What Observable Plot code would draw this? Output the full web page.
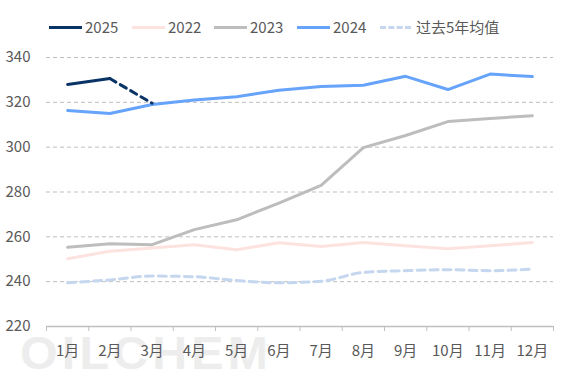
<!DOCTYPE html>
<html><head><meta charset="utf-8">
<script src="https://cdn.jsdelivr.net/npm/d3@7"></script>
<script src="https://cdn.jsdelivr.net/npm/@observablehq/plot@0.6"></script>
<style>
body{margin:0;background:#fff;font-family:"Noto Sans CJK SC","Noto Sans",sans-serif;}
#wrap{position:relative;width:567px;height:378px;overflow:hidden;}
#legend{height:40px;position:relative;font-size:15px;color:#595959;}
.item{position:absolute;top:17px;display:flex;align-items:center;line-height:20px;}
.sw{width:33px;height:0;margin-right:3px;}
#wm{position:absolute;left:20px;top:326px;font-family:"Liberation Sans",Arial,sans-serif;font-weight:bold;font-size:46px;letter-spacing:4px;color:#ededed;transform:scaleX(1.05);transform-origin:left;}
#chart{position:relative;}
</style></head>
<body><div id="wrap"><div id="wm">OILCHEM</div><div id="legend"></div><div id="chart"></div></div>
<script>
const months = [1,2,3,4,5,6,7,8,9,10,11,12];
const monthLabels = ["1月","2月","3月","4月","5月","6月","7月","8月","9月","10月","11月","12月"];
const s2025 = [328, 330.6, 319.6];
const s2022 = [250.2, 253.6, 255, 256.5, 254.2, 257.4, 255.7, 257.5, 256, 254.7, 256, 257.5];
const s2023 = [255.4, 256.9, 256.5, 263.2, 267.6, 275, 283, 299.8, 305.2, 311.4, 312.8, 314];
const s2024 = [316.4, 315, 319, 321, 322.5, 325.4, 327.1, 327.6, 331.6, 325.7, 332.6, 331.5];
const s5yr = [239.5, 240.8, 242.5, 242.2, 240.5, 239.5, 240.2, 244.1, 244.9, 245.3, 244.9, 245.6];
const yTicks = [220, 240, 260, 280, 300, 320, 340];
const seriesNames = ["2025","2022","2023","2024","过去5年均值"];
const colors = {"2025":"#0b3466","2022":"#fde3df","2023":"#bdbdbd","2024":"#66a3fb","过去5年均值":"#c5d7ee"};

const toRows = (arr, name) => arr.map((v,i)=>({m:months[i], v, name}));
const r2025solid = toRows(s2025, "2025").slice(0,2);
const r2025dash = toRows(s2025, "2025").slice(1,3);
const r2022 = toRows(s2022,"2022"), r2023 = toRows(s2023,"2023"), r2024 = toRows(s2024,"2024"), r5 = toRows(s5yr,"过去5年均值");
const bounds = months.map(m=>m-0.5).concat([months[months.length-1]+0.5]);

// legend
const legendPos = [49,132,214,297,380];
const lg = document.getElementById("legend");
seriesNames.forEach((n,i)=>{
  const d = document.createElement("div"); d.className="item"; d.style.left=legendPos[i]+"px";
  const dashed = n==="过去5年均值";
  d.innerHTML = `<span class="sw" style="border-top:3px ${dashed?"dashed":"solid"} ${colors[n]};${dashed?"width:31px;margin-right:5px;":""}"></span><span>${n}</span>`;
  lg.appendChild(d);
});

const plot = Plot.plot({
  width: 567, height: 338,
  marginTop: 17, marginBottom: 52, marginLeft: 46, marginRight: 14,
  style: {fontFamily: '"Noto Sans CJK SC","Noto Sans",sans-serif', fontSize: "14px", color: "#595959", background: "transparent"},
  x: {type: "linear", domain: [0.5, 12.5]},
  y: {domain: [220, 340]},
  marks: [
    Plot.ruleY(yTicks.filter(d=>d>220), {stroke: "#bfbfbf", strokeDasharray: "4,3", strokeWidth: 1}),
    Plot.ruleY([220], {stroke: "#bfbfbf", strokeWidth: 1.5}),
    Plot.axisY({ticks: yTicks, tickSize: 0, tickPadding: 16, fill: "#595959", fontSize: 15, label: null}),
    Plot.axisX({ticks: bounds, tickSize: 5, tickFormat: () => "", stroke: "#bfbfbf", label: null}),
    Plot.axisX({ticks: months, tickSize: 0, tickPadding: 19, tickFormat: (d)=>monthLabels[d-1], fill: "#595959", fontSize: 15, label: null}),
    Plot.line(r5, {x: "m", y: "v", stroke: colors["过去5年均值"], strokeWidth: 3, strokeDasharray: "8,5", curve: "monotone-x"}),
    Plot.line(r2022, {x: "m", y: "v", stroke: colors["2022"], strokeWidth: 3}),
    Plot.line(r2023, {x: "m", y: "v", stroke: colors["2023"], strokeWidth: 3}),
    Plot.line(r2024, {x: "m", y: "v", stroke: colors["2024"], strokeWidth: 3}),
    Plot.line(r2025solid, {x: "m", y: "v", stroke: colors["2025"], strokeWidth: 3}),
    Plot.line(r2025dash, {x: "m", y: "v", stroke: colors["2025"], strokeWidth: 3, strokeDasharray: "7,5"})
  ]
});
document.getElementById("chart").appendChild(plot);
</script></body></html>
